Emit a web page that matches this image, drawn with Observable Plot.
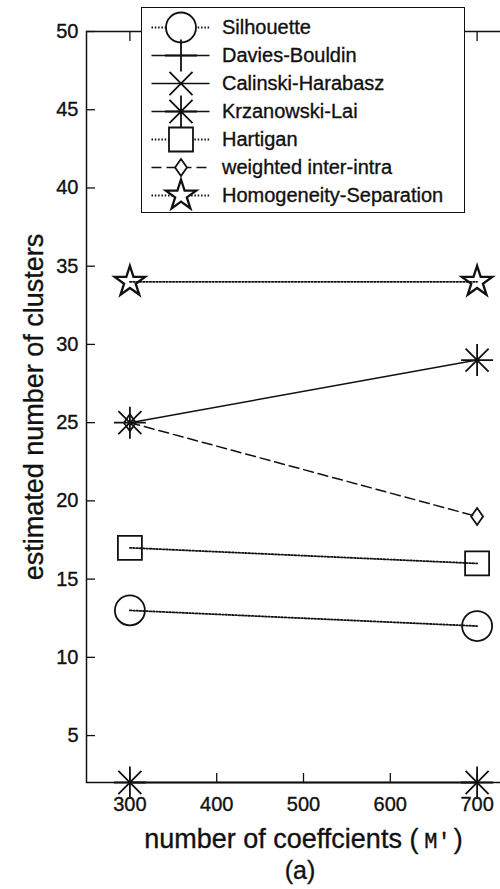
<!DOCTYPE html>
<html>
<head>
<meta charset="utf-8">
<script src="https://cdn.jsdelivr.net/npm/d3@7"></script>
<script src="https://cdn.jsdelivr.net/npm/@observablehq/plot@0.6"></script>
<style>
  html, body { margin: 0; padding: 0; background: #fff; overflow: hidden; }
  #chart { position: relative; width: 500px; height: 889px; overflow: hidden;
           font-family: "Liberation Sans", Arial, Helvetica, sans-serif; color: #111; background: #fff; }
  #chart svg text { stroke: #111; stroke-width: 0.35px; }
  #legend { position: absolute; left: 141px; top: 7px; width: 324px; height: 206px;
            box-sizing: border-box; border: 1.5px solid #111; background: #fff; }
  #caption { position: absolute; left: 240px; top: 855px; width: 120px; text-align: center;
             font-size: 25px; line-height: 30px; -webkit-text-stroke: 0.35px #111; }
</style>
</head>
<body>
<div id="chart"><div id="legend"></div><div id="caption">(a)</div></div>
<script>
// Estimated number of clusters per validity index, for two coefficient counts
const coefficients = [300, 700];
const methods = ["Silhouette", "Davies-Bouldin", "Calinski-Harabasz", "Krzanowski-Lai",
                 "Hartigan", "weighted inter-intra", "Homogeneity-Separation"];
const silhouette = [13, 12];
const daviesBouldin = [2, 2];
const calinskiHarabasz = [2, 2];
const krzanowskiLai = [25, 29];
const hartigan = [17, 16];
const weightedInterIntra = [25, 19];
const homogeneitySeparation = [34, 34];
const xTicks = [300, 400, 500, 600, 700];
const yTicks = [5, 10, 15, 20, 25, 30, 35, 40, 45, 50];

const methodValues = [silhouette, daviesBouldin, calinskiHarabasz, krzanowskiLai,
                      hartigan, weightedInterIntra, homogeneitySeparation];
const methodLine = ["dotted", "solid", "solid", "solid", "dotted", "dashed", "dotted"];
const methodMarker = ["circle", "plus", "times", "asterisk", "square", "diamond", "pentagram"];

const ink = "#111";
const font = '"Liberation Sans", Arial, Helvetica, sans-serif';
const dashes = {dotted: "1.5,1.8", solid: null, dashed: "10,5"};
const lineWidth = {dotted: 1.8, solid: 1.5, dashed: 1.5};

// open marker shapes; the radius comes from the dot's r
const rad = size => Math.sqrt(size / Math.PI);
const markers = {
  circle: {draw(c, s) { const r = rad(s); c.moveTo(r, 0); c.arc(0, 0, r, 0, 2 * Math.PI); c.closePath(); }},
  plus: {draw(c, s) { const r = rad(s); c.moveTo(-r, 0); c.lineTo(r, 0); c.moveTo(0, -r); c.lineTo(0, r); }},
  times: {draw(c, s) { const r = rad(s) * 0.72; c.moveTo(-r, -r); c.lineTo(r, r); c.moveTo(-r, r); c.lineTo(r, -r); }},
  asterisk: {draw(c, s) {
    const r = rad(s), d = r * 0.72;
    c.moveTo(-r, 0); c.lineTo(r, 0); c.moveTo(0, -r); c.lineTo(0, r);
    c.moveTo(-d, -d); c.lineTo(d, d); c.moveTo(-d, d); c.lineTo(d, -d);
  }},
  square: {draw(c, s) { const r = rad(s) * 0.8; c.rect(-r, -r, 2 * r, 2 * r); }},
  diamond: {draw(c, s) { const r = rad(s), w = r * 0.7; c.moveTo(0, -r); c.lineTo(w, 0); c.lineTo(0, r); c.lineTo(-w, 0); c.closePath(); }},
  pentagram: {draw(c, s) {
    const R = rad(s), q = R * 0.382;
    for (let k = 0; k < 10; k++) {
      const a = -Math.PI / 2 + k * Math.PI / 5, rr = k % 2 ? q : R;
      const px = rr * Math.cos(a), py = rr * Math.sin(a);
      k ? c.lineTo(px, py) : c.moveTo(px, py);
    }
    c.closePath();
  }}
};
const markerRadius = {circle: 15, plus: 16, times: 16, asterisk: 16, square: 15, diamond: 8.5, pentagram: 16};

const series = methods.map((m, i) => ({
  method: m,
  dash: dashes[methodLine[i]],
  width: lineWidth[methodLine[i]],
  marker: methodMarker[i],
  points: coefficients.map((c, j) => ({coef: c, value: methodValues[i][j]}))
}));

const xLabel = "number of coeffcients (M')";
const yLabel = "estimated number of clusters";

const chart = Plot.plot({
  width: 520,
  height: 855,
  marginTop: 31,
  marginBottom: 73,
  marginLeft: 86,
  marginRight: 0,
  x: {domain: [250, 750]},
  y: {domain: [2, 50]},
  style: {fontFamily: font, fontSize: "20px", color: ink, background: "white", maxWidth: "none", overflow: "visible"},
  marks: [
    Plot.frame({stroke: ink, strokeWidth: 1.5}),
    Plot.axisY(yTicks, {anchor: "left", tickSize: 0, tickPadding: 8, fontSize: 20, label: null}),
    Plot.axisY(yTicks, {anchor: "left", tickSize: -9, text: null, label: null, strokeWidth: 1.3}),
    Plot.axisX(xTicks, {anchor: "bottom", tickSize: 0, tickPadding: 14, fontSize: 20, label: null}),
    Plot.axisX(xTicks, {anchor: "bottom", tickSize: -9, text: null, label: null, strokeWidth: 1.3}),
    Plot.axisX(xTicks, {anchor: "top", tickSize: -9, text: null, label: null, strokeWidth: 1.3}),
    ...series.map(s => Plot.line(s.points, {
      x: "coef", y: "value", stroke: ink, strokeWidth: s.width, strokeDasharray: s.dash
    })),
    ...series.map(s => Plot.dot(s.points, {
      x: "coef", y: "value", symbol: markers[s.marker], r: markerRadius[s.marker],
      stroke: ink, fill: "none", strokeWidth: s.marker === "pentagram" ? 2.3 : 1.8
    })),
    Plot.text([xLabel], {frameAnchor: "bottom", dy: 57, textAnchor: "middle", lineAnchor: "middle", fontSize: 27, fill: ink}),
    Plot.text([yLabel], {frameAnchor: "left", dx: -52, rotate: -90, textAnchor: "middle", lineAnchor: "middle", fontSize: 27, fill: ink})
  ]
});
chart.style.maxWidth = "none";

// set the symbol M' in a typewriter face inside the x label
for (const t of chart.querySelectorAll("text")) {
  if (t.textContent === xLabel) {
    t.textContent = "";
    const ns = "http://www.w3.org/2000/svg";
    const a = document.createElementNS(ns, "tspan"); a.textContent = "number of coeffcients (";
    const b = document.createElementNS(ns, "tspan"); b.textContent = "M'";
    b.setAttribute("font-family", '"Liberation Mono", "Courier New", monospace');
    b.setAttribute("font-size", "22"); b.setAttribute("dx", "6");
    const c = document.createElementNS(ns, "tspan"); c.textContent = ")"; c.setAttribute("dx", "3");
    t.append(a, b, c);
  }
}
document.getElementById("chart").prepend(chart);

// legend box drawn over the upper part of the axes
const legend = Plot.plot({
  width: 321,
  height: 203,
  margin: 0,
  x: {type: "identity"},
  y: {type: "point", domain: methods, range: [16.5, 188.5], padding: 0, axis: null},
  style: {fontFamily: font, fontSize: "20px", color: ink, background: "white"},
  marks: [
    ...series.map(s => Plot.ruleY([s.method], {
      y: d => d, x1: 9.5, x2: 67.5, stroke: ink, strokeWidth: s.width, strokeDasharray: s.dash
    })),
    ...series.map(s => Plot.dot([s.method], {
      y: d => d, x: 38.5, symbol: markers[s.marker], r: markerRadius[s.marker],
      stroke: ink, fill: s.dash ? "white" : "none", strokeWidth: s.marker === "pentagram" ? 2.3 : 1.8
    })),
    Plot.text(methods, {y: d => d, x: 79.5, text: d => d, textAnchor: "start", fontSize: 20, fill: ink})
  ]
});
document.getElementById("legend").append(legend);
</script>
</body>
</html>
